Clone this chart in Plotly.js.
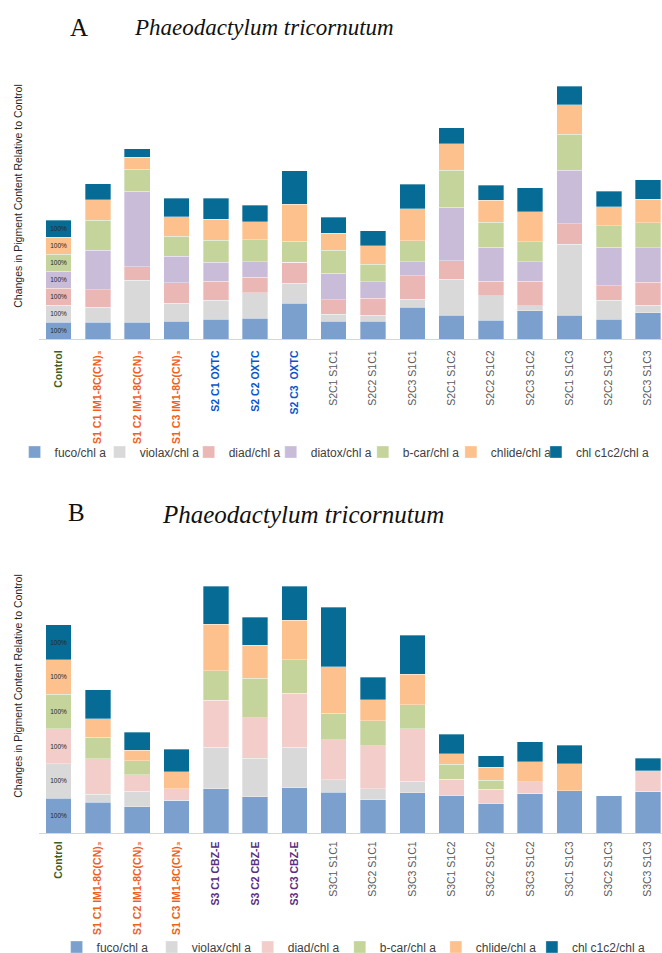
<!DOCTYPE html>
<html><head><meta charset="utf-8">
<script src="https://cdn.plot.ly/plotly-3.0.1.min.js"></script>
<style>
html,body{margin:0;padding:0;background:#fff;overflow:hidden;}
#chartA{width:662px;height:477px;}
#chartB{width:662px;height:492px;}
</style>
</head><body>
<div id="chartA"></div><div id="chartB"></div>
<script>
// ---------- DATA: panel A ----------
const categoriesA = ['Control','S1 C1 IM1-8C(CN)3','S1 C2 IM1-8C(CN)3','S1 C3 IM1-8C(CN)3',
  'S2 C1 OXTC','S2 C2 OXTC','S2 C3  OXTC','S2C1 S1C1','S2C2 S1C1','S2C3 S1C1',
  'S2C1 S1C2','S2C2 S1C2','S2C3 S1C2','S2C1 S1C3','S2C2 S1C3','S2C3 S1C3'];
const groupsA = ['control','s1','s1','s1','s2','s2','s2','mix','mix','mix','mix','mix','mix','mix','mix','mix'];
const fucoA    = [100, 98, 98,106,118,122,210,104,104,187,140,112,167,140,116,155];
const violaxA  = [100, 88,250,104,112,151,120, 43, 35, 47,214,142, 29,419,114, 43];
const diadA    = [100,106, 77,122,110, 92,122, 85,100,140,108, 88,145,120, 83,136];
const diatoxA  = [100,232,448,157,112, 92,  0,157,100, 83,315,199,114,318,228,203];
const bcarA    = [100,177,128,118,132,128,126,136,102,124,220,147,120,212,126,149];
const chlideA  = [100,122, 71,114,122,106,216,100,108,187,155,132,177,173,112,138];
const chlcA    = [100, 94, 51,108,124, 98,199, 92, 90,145, 94, 88,140,108, 94,116];

// ---------- DATA: panel B ----------
const categoriesB = ['Control','S1 C1 IM1-8C(CN)3','S1 C2 IM1-8C(CN)3','S1 C3 IM1-8C(CN)3',
  'S3 C1 CBZ-E','S3 C2 CBZ-E','S3 C3 CBZ-E','S3C1 S1C1','S3C2 S1C1','S3C3 S1C1',
  'S3C1 S1C2','S3C2 S1C2','S3C3 S1C2','S3C1 S1C3','S3C2 S1C3','S3C3 S1C3'];
const groupsB = ['control','s1','s1','s1','s3','s3','s3','mix','mix','mix','mix','mix','mix','mix','mix','mix'];
const fucoB    = [100, 88, 76, 94,128,104,131,117, 96,116,108, 85,114,122,109,120];
const violaxB  = [100, 23, 45,  0,119,111,116, 37, 31, 33,  0,  0,  0,  0,  0,  0];
const diadB    = [100,103, 47, 33,135,117,156,115,125,152, 47, 41, 34,  0,  0, 60];
const bcarB    = [100, 62, 40,  0, 86,114, 96, 76, 72, 69, 43, 26,  0,  0,  0,  0];
const chlideB  = [100, 53, 30, 50,133, 95,114,134, 60, 88, 30, 37, 58, 77,  0,  0];
const chlcB    = [100, 84, 52, 64,110, 81, 98,172, 65,112, 56, 33, 57, 54,  0, 36];

const titleLetterA = 'A', titleLetterB = 'B';
const speciesName = 'Phaeodactylum tricornutum';
const yTitle = 'Changes in Pigment Content Relative to Control';

// ---------- STYLE ----------
const colors = {
  'fuco/chl a':'#7ca0cd', 'violax/chl a':'#d9d9d9', 'diad/chl a':'#ebb7b5', 'diad/chl a B':'#f2cdc9',
  'diatox/chl a':'#c9bcd9', 'b-car/chl a':'#c4d49b', 'chlide/chl a':'#fdc18d', 'chl c1c2/chl a':'#066c96'
};
const groupColors = {control:'#3f5d1e', s1:'#f0601c', s2:'#0a55cc', s3:'#5a2d82', mix:'#595959'};
const sansFont = 'Liberation Sans Narrow, Arial Narrow, Liberation Sans, Arial, sans-serif';
const serifFont = 'Liberation Serif, Times New Roman, serif';
const W = 662;

function legendId(k){ return k === 0 ? 'legend' : 'legend' + (k + 1); }

function fmtLabel(label, group){
  const t = label.replace(/\(CN\)3$/, '(CN)\u2083');
  const c = groupColors[group];
  return group === 'mix' ? '<span style="color:'+c+'">'+t+'</span>'
                         : '<b><span style="color:'+c+'">'+t+'</span></b>';
}

function makeTraces(cats, series){
  return series.map((s, k) => ({
    type:'bar', name:s.name, x:cats, y:s.values, legend:legendId(k),
    marker:{color:s.color, line:{width:0.6, color:'rgba(255,255,255,0.55)'}},
    text: s.values.map((v,i)=> cats[i]==='Control' ? v+'%' : ''),
    textposition:'inside', insidetextanchor:'middle', textangle:0,
    textfont:{size:6.5, color:'#262626', family:sansFont},
    hoverinfo:'x+y+name'
  }));
}

function makeLayout(o){
  const l = 39.4, pw = W - l;
  const ph = o.height - o.t - o.b;
  const px = v => (v - l) / pw;
  const py = v => (o.height - o.b - v) / ph;
  const legFont = {family:sansFont, size:12, color:'#404040'};
  const lay = {
    width:W, height:o.height, barmode:'stack', bargap:0.35,
    paper_bgcolor:'#fff', plot_bgcolor:'#fff',
    margin:{l:l, r:0, t:o.t, b:o.b, pad:0},
    showlegend:true,
    xaxis:{type:'category', range:[-0.5, -0.5 + pw/39.27], tickmode:'array',
           tickvals:o.cats, ticktext:o.cats.map((c,i)=>fmtLabel(c,o.groups[i])),
           tickangle:-90, ticks:'', ticklabelstandoff:o.standoff, showline:true, linecolor:'#d6d6d6', linewidth:1.2,
           showgrid:false, zeroline:false, tickfont:{family:sansFont, size:10.5, color:'#595959'}},
    yaxis:{range:[0, ph / o.pxPer100 * 100], showticklabels:false, ticks:'', showgrid:false,
           zeroline:false, showline:false,
           title:{text:yTitle, standoff:13, font:{family:sansFont, size:10.5, color:'#262626'}}},
    annotations:[
      {text:o.letter, xref:'paper', yref:'paper', x:px(o.letX), y:py(o.letY), xanchor:'center', yanchor:'middle',
       showarrow:false, font:{family:serifFont, size:o.letSize, color:'#111'}},
      {text:'<i>'+speciesName+'</i>', xref:'paper', yref:'paper', x:px(o.spX), y:py(o.spY), xanchor:'center', yanchor:'middle',
       showarrow:false, font:{family:serifFont, size:o.spSize, color:'#111'}}
    ]
  };
  o.legTextX.forEach((tx, k) => {
    lay[legendId(k)] = {orientation:'h', x:px(tx - 40), xanchor:'left', y:py(o.legY), yanchor:'middle',
                        font:legFont, bgcolor:'rgba(0,0,0,0)'};
  });
  return lay;
}

const tracesA = makeTraces(categoriesA, [
  {name:'fuco/chl a', values:fucoA, color:colors['fuco/chl a']},
  {name:'violax/chl a', values:violaxA, color:colors['violax/chl a']},
  {name:'diad/chl a', values:diadA, color:colors['diad/chl a']},
  {name:'diatox/chl a', values:diatoxA, color:colors['diatox/chl a']},
  {name:'b-car/chl a', values:bcarA, color:colors['b-car/chl a']},
  {name:'chlide/chl a', values:chlideA, color:colors['chlide/chl a']},
  {name:'chl c1c2/chl a', values:chlcA, color:colors['chl c1c2/chl a']}
]);
const tracesB = makeTraces(categoriesB, [
  {name:'fuco/chl a', values:fucoB, color:colors['fuco/chl a']},
  {name:'violax/chl a', values:violaxB, color:colors['violax/chl a']},
  {name:'diad/chl a', values:diadB, color:colors['diad/chl a B']},
  {name:'b-car/chl a', values:bcarB, color:colors['b-car/chl a']},
  {name:'chlide/chl a', values:chlideB, color:colors['chlide/chl a']},
  {name:'chl c1c2/chl a', values:chlcB, color:colors['chl c1c2/chl a']}
]);

const layoutA = makeLayout({height:477, t:53, b:138, pxPer100:16.95, cats:categoriesA, groups:groupsA,
  standoff:6, legTextX:[55,140,229,311,403,491,576], legY:452, letter:titleLetterA, letX:79, letY:27, letSize:25,
  spX:264, spY:28, spSize:23});
const layoutB = makeLayout({height:492, t:62, b:136, pxPer100:34.7, cats:categoriesB, groups:groupsB,
  standoff:3, legTextX:[97,192,288,380,476,572], legY:470, letter:titleLetterB, letX:77, letY:36, letSize:25,
  spX:303, spY:37, spSize:25});

const cfg = {displayModeBar:false, staticPlot:true};
Plotly.newPlot('chartA', tracesA, layoutA, cfg);
Plotly.newPlot('chartB', tracesB, layoutB, cfg);
</script>
</body></html>
